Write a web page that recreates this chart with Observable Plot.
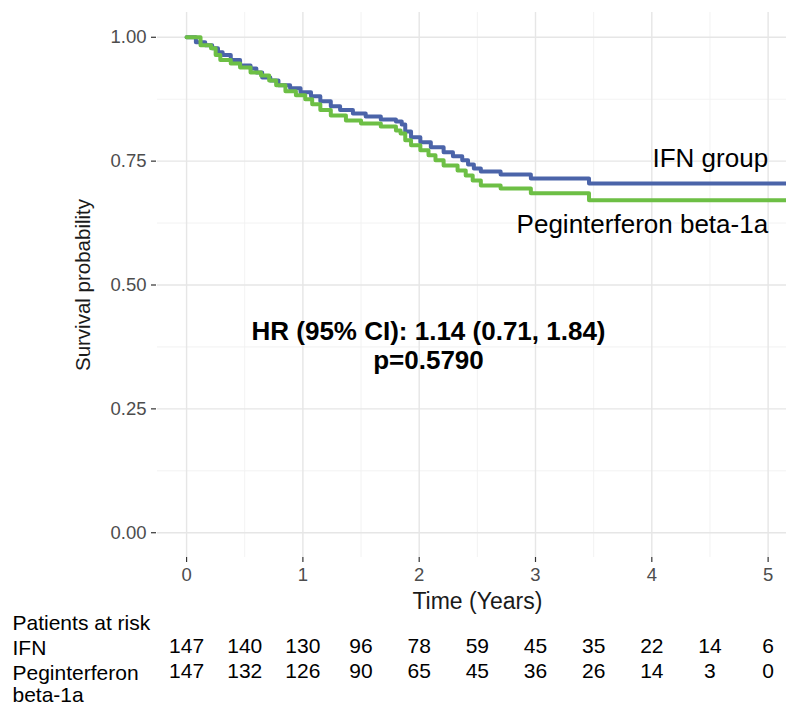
<!DOCTYPE html>
<html>
<head>
<meta charset="utf-8">
<script src="https://cdn.jsdelivr.net/npm/d3@7"></script>
<script src="https://cdn.jsdelivr.net/npm/@observablehq/plot@0.6"></script>
<style>
  html, body { margin: 0; padding: 0; background: #fff; overflow: hidden; }
  #chart svg { display: block; }
</style>
</head>
<body>
<div id="chart"></div>
<script>
// ---- Kaplan-Meier curves ----
const tIFN = [0, 0.08, 0.16, 0.22, 0.27, 0.31, 0.38, 0.46, 0.55, 0.60, 0.65, 0.72, 0.79, 0.89, 0.98, 1.07, 1.15, 1.24, 1.32, 1.43, 1.54, 1.67, 1.80, 1.85, 1.88, 1.93, 2.01, 2.10, 2.21, 2.29, 2.37, 2.42, 2.47, 2.53, 2.70, 2.96, 3.46, 5.25];
const sIFN = [1.000, 0.990, 0.984, 0.978, 0.970, 0.964, 0.954, 0.943, 0.937, 0.929, 0.919, 0.913, 0.903, 0.897, 0.889, 0.881, 0.871, 0.861, 0.853, 0.846, 0.840, 0.834, 0.830, 0.824, 0.810, 0.798, 0.788, 0.778, 0.768, 0.760, 0.752, 0.743, 0.735, 0.729, 0.723, 0.715, 0.705, 0.705];

const tPeg = [0, 0.12, 0.21, 0.25, 0.29, 0.38, 0.46, 0.55, 0.64, 0.71, 0.77, 0.85, 0.94, 1.02, 1.08, 1.15, 1.24, 1.37, 1.50, 1.67, 1.80, 1.84, 1.88, 1.93, 2.01, 2.08, 2.14, 2.21, 2.33, 2.40, 2.46, 2.53, 2.70, 2.96, 3.46, 5.25];
const sPeg = [1.000, 0.984, 0.978, 0.964, 0.954, 0.947, 0.939, 0.929, 0.923, 0.913, 0.903, 0.891, 0.883, 0.875, 0.865, 0.853, 0.842, 0.832, 0.826, 0.820, 0.812, 0.806, 0.792, 0.782, 0.772, 0.762, 0.752, 0.741, 0.731, 0.721, 0.711, 0.701, 0.695, 0.685, 0.671, 0.671];

// ---- axes ----
const xTicks = [0, 1, 2, 3, 4, 5];
const xMinor = [0.5, 1.5, 2.5, 3.5, 4.5];
const yTicks = [0, 0.25, 0.5, 0.75, 1];
const yMinor = [0.125, 0.375, 0.625, 0.875];
const xTitle = "Time (Years)";
const yTitle = "Survival probability";

// ---- labels ----
const groupNames = ["IFN group", "Peginterferon beta-1a"];
const groupLabelPos = [{t: 5.0, s: 0.755}, {t: 5.0, s: 0.622}];
const statsText = ["HR (95% CI): 1.14 (0.71, 1.84)", "p=0.5790"];
const statsPos = {t: 2.08, s: 0.378};

// ---- risk table ----
const riskTimes = [0, 0.5, 1, 1.5, 2, 2.5, 3, 3.5, 4, 4.5, 5];
const riskIFN = [147, 140, 130, 96, 78, 59, 45, 35, 22, 14, 6];
const riskPeg = [147, 132, 126, 90, 65, 45, 36, 26, 14, 3, 0];
const riskHeader = "Patients at risk";
const riskRowNames = ["IFN", "Peginterferon beta-1a"];

const colors = {ifn: "#4b64a9", peg: "#6dbf45"};
const font = "'Liberation Sans', Arial, Helvetica, sans-serif";

const ifnData = tIFN.map((t, i) => ({t, s: sIFN[i]}));
const pegData = tPeg.map((t, i) => ({t, s: sPeg[i]}));

const W = 786;
const xScale = {domain: [-0.25, 5.158]};
const ML = 157;

const main = Plot.plot({
  width: W, height: 612,
  marginLeft: ML, marginRight: 0, marginTop: 12, marginBottom: 55,
  x: xScale,
  y: {domain: [-0.05, 1.05]},
  style: {fontFamily: font, fontSize: "18.5px", background: "white", overflow: "visible"},
  marks: [
    Plot.gridX(xMinor, {stroke: "#f1f1f1", strokeOpacity: 1, strokeWidth: 0.9}),
    Plot.gridY(yMinor, {stroke: "#f1f1f1", strokeOpacity: 1, strokeWidth: 0.9}),
    Plot.gridX(xTicks, {stroke: "#e6e6e6", strokeOpacity: 1, strokeWidth: 1.4}),
    Plot.gridY(yTicks, {stroke: "#e6e6e6", strokeOpacity: 1, strokeWidth: 1.4}),
    Plot.axisX(xTicks, {tickSize: 5, tickPadding: 5, color: "#4d4d4d", stroke: "#333", strokeWidth: 1.2, label: null, tickFormat: d3.format("d")}),
    Plot.axisY(yTicks, {tickSize: 5, tickPadding: 5, color: "#4d4d4d", stroke: "#333", strokeWidth: 1.2, label: null, tickFormat: d3.format(".2f"), dx: -1}),
    Plot.line(ifnData, {x: "t", y: "s", curve: "step-after", stroke: colors.ifn, strokeWidth: 4, clip: true}),
    Plot.line(pegData, {x: "t", y: "s", curve: "step-after", stroke: colors.peg, strokeWidth: 4, clip: true}),
    Plot.text(groupNames, {x: (d, i) => groupLabelPos[i].t, y: (d, i) => groupLabelPos[i].s, text: d => d, textAnchor: "end", lineAnchor: "middle", fontSize: 26, fill: "#000"}),
    Plot.text([statsText.join("\n")], {x: () => statsPos.t, y: () => statsPos.s, text: d => d, fontSize: 26, fontWeight: "bold", lineHeight: 1.12, lineAnchor: "middle", textAnchor: "middle", fill: "#000"}),
    Plot.text([yTitle], {frameAnchor: "left", dx: -74, rotate: -90, textAnchor: "middle", lineAnchor: "middle", fontSize: 20.5, fill: "#1a1a1a"}),
    Plot.text([xTitle], {x: () => 2.5, frameAnchor: "bottom", dy: 44, textAnchor: "middle", lineAnchor: "middle", fontSize: 23, fill: "#1a1a1a"})
  ]
});

const riskRows = [];
riskTimes.forEach((t, i) => {
  riskRows.push({t, group: riskRowNames[0], n: riskIFN[i]});
  riskRows.push({t, group: riskRowNames[1], n: riskPeg[i]});
});
const rowLabels = [
  {group: riskHeader, label: riskHeader},
  {group: riskRowNames[0], label: riskRowNames[0]},
  {group: riskRowNames[1], label: riskRowNames[1].replace(" ", "\n")}
];

const table = Plot.plot({
  width: W, height: 93,
  marginLeft: ML, marginRight: 0, marginTop: 0, marginBottom: 0,
  x: {...xScale, axis: null},
  y: {type: "point", domain: [riskHeader, ...riskRowNames], range: [9, 59], padding: 0, axis: null},
  style: {fontFamily: font, fontSize: "21px", background: "white", overflow: "visible"},
  marks: [
    Plot.text(rowLabels, {y: "group", text: "label", frameAnchor: "left", dx: -145, textAnchor: "start", lineAnchor: "top", dy: -7.5, lineHeight: 1.07, fontSize: 21, fill: "#000"}),
    Plot.text(riskRows, {x: "t", y: "group", text: d => String(d.n), textAnchor: "middle", lineAnchor: "middle", fontSize: 21, fill: "#000"})
  ]
});

const chart = document.getElementById("chart");
chart.appendChild(main);
chart.appendChild(table);
</script>
</body>
</html>
